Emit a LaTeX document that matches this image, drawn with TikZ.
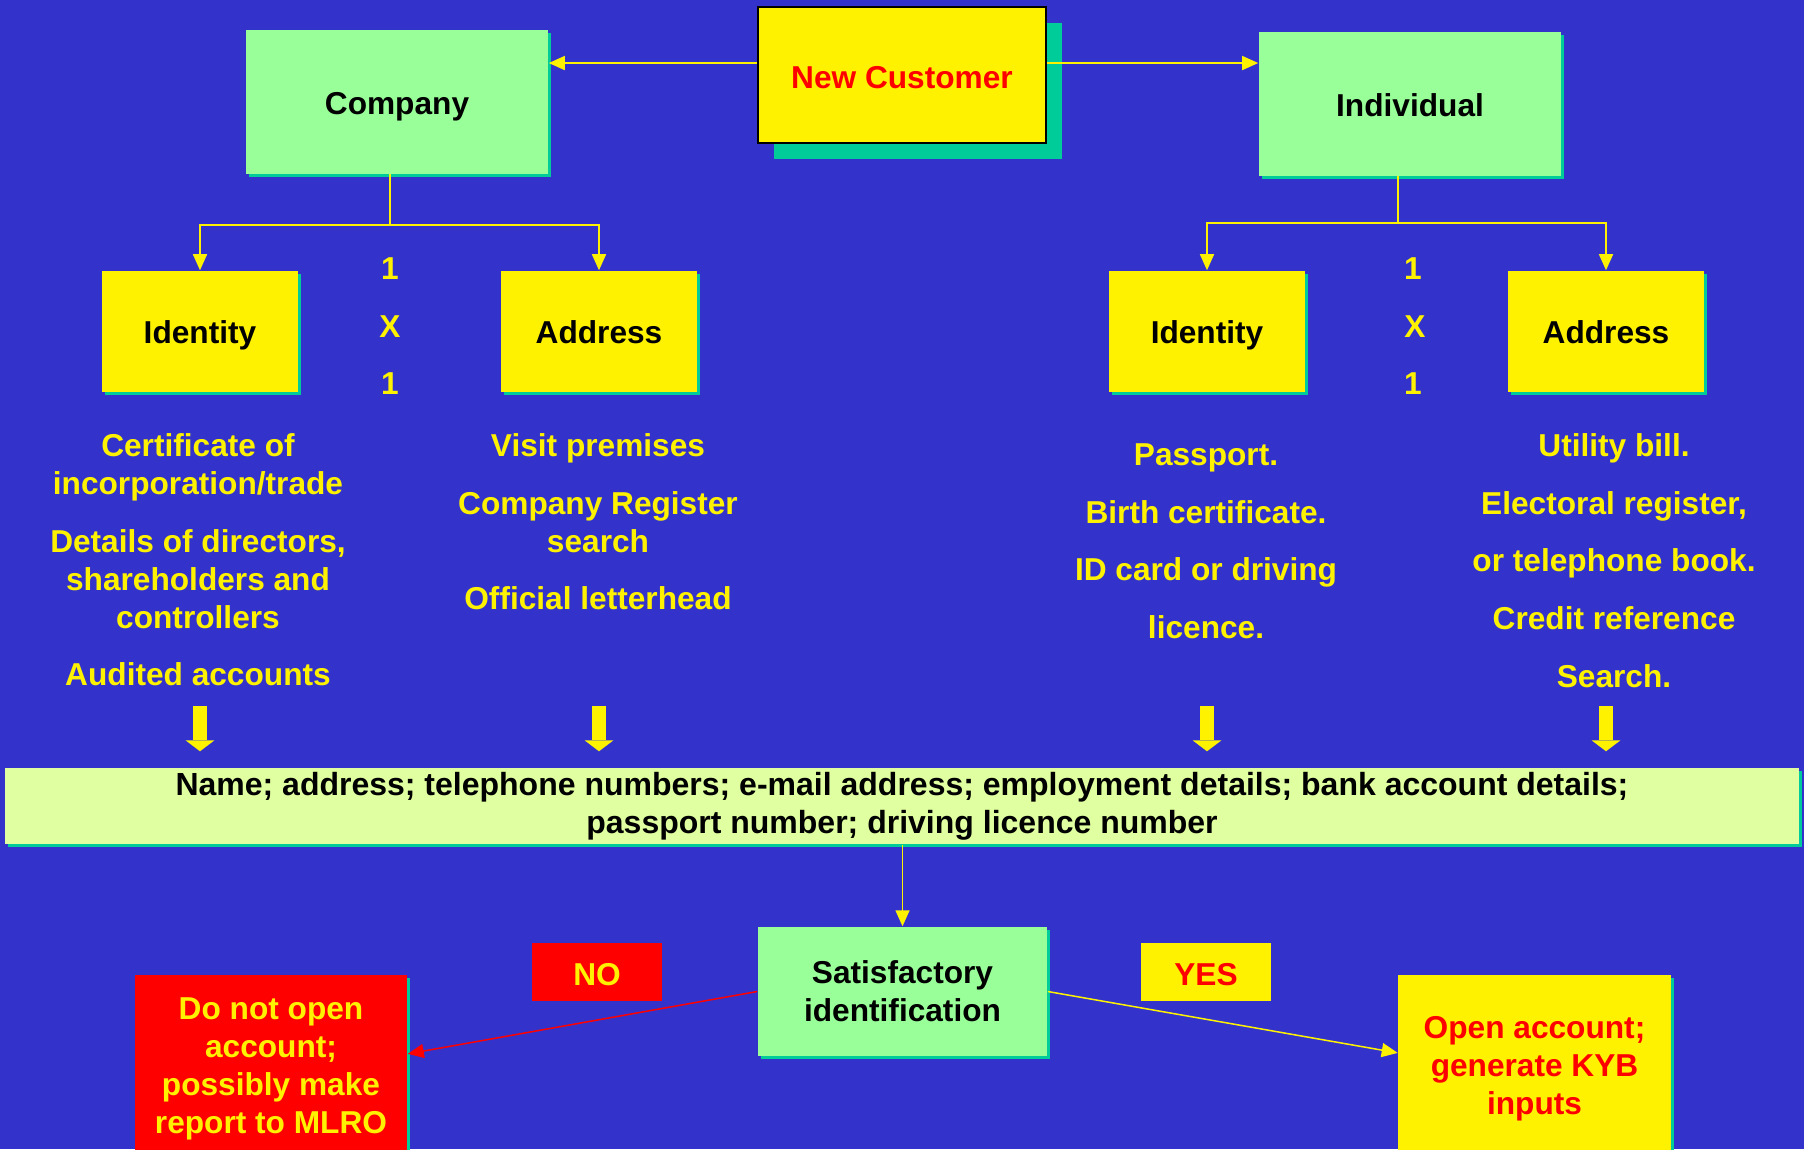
\documentclass[tikz,border=0pt]{standalone}
\usepackage{fontspec}
\setmainfont{Liberation Sans}
\usetikzlibrary{arrows.meta, shadows, calc}
\definecolor{kycblue}{RGB}{51,51,204}
\definecolor{kycgreen}{RGB}{153,255,153}
\definecolor{kycteal}{RGB}{0,204,153}
\definecolor{kycpale}{RGB}{224,255,160}
\tikzset{
    every node/.style = {align = center, inner sep = 0pt, font = \fontsize{9}{10.8}\selectfont\bfseries},
    box/.style = {drop shadow = {fill = kycteal, opacity = 1, shadow xshift = 0.85pt, shadow yshift = -0.85pt}},
    oneline/.style = {text height = 7pt, text depth = 0pt},
    greenbox/.style = {box, fill = kycgreen, minimum width = 3.02cm, minimum height = 1.43cm},
    ylwbox/.style = {box, oneline, fill = yellow, minimum width = 1.95cm, minimum height = 1.21cm},
    flag/.style = {text height = 7.5pt, text depth = 0pt, minimum width = 1.30cm, minimum height = 0.58cm},
    outcome/.style = {box, minimum width = 2.72cm, minimum height = 1.88cm},
    coltext/.style = {text = yellow, anchor = north},
    conn/.style = {draw = yellow, line width = 0.015cm, -{Triangle[length = 0.16cm, width = 0.14cm]}},
    fatarrow/.style = {draw = yellow, line width = 0.14cm, -{Triangle[length = 0.11cm, width = 0.29cm, line width = 0pt]}}
}

\begin{document}
\begin{tikzpicture}[x = 0.01cm, y = -0.01cm]
    \fill [kycblue] (0, 0) rectangle (1804, 1149);
    \clip (0, 0) rectangle (1804, 1149);

    % top row
    \node [greenbox, oneline] (company) at (397, 102) {Company};
    \node [greenbox, oneline] (individual) at (1410, 104) {Individual};
    \node [draw = black, line width = 0.02cm, fill = yellow, text = red, minimum width = 2.88cm, minimum height = 1.36cm,
        text height = 7.5pt, text depth = 0pt,
        drop shadow = {fill = kycteal, opacity = 1, shadow xshift = 4.5pt, shadow yshift = -4.5pt}]
        (newc) at (902, 75) {New Customer};

    % identity / address
    \node [ylwbox] (idC) at (200, 331.5) {Identity};
    \node [ylwbox] (adC) at (599, 331.5) {Address};
    \node [ylwbox] (idI) at (1207, 331.5) {Identity};
    \node [ylwbox] (adI) at (1606, 331.5) {Address};
    \node [text = yellow] (oneCa) at (390, 269) {1};
    \node [text = yellow] (xC) at (390, 327) {X};
    \node [text = yellow] (oneCb) at (390, 384) {1};
    \node [text = yellow] (oneIa) at (1413, 269) {1};
    \node [text = yellow] (xI) at (1415, 327) {X};
    \node [text = yellow] (oneIb) at (1413, 384) {1};

    % documents
    \node [coltext] (idCtext) at (198, 433) {Certificate of\\incorporation/trade\\[5.6pt]Details of directors,\\shareholders and\\controllers\\[5.6pt]Audited accounts};
    \node [coltext] (adCtext) at (598, 433) {Visit premises\\[5.6pt]Company Register\\search\\[5.6pt]Official letterhead};
    \node [coltext] (idItext) at (1206, 443) {Passport.\\[5.6pt]Birth certificate.\\[5.6pt]ID card or driving\\[5.6pt]licence.};
    \node [coltext] (adItext) at (1614, 433) {Utility bill.\\[5.6pt]Electoral register,\\[5.6pt]or telephone book.\\[5.6pt]Credit reference\\[5.6pt]Search.};

    \node [box, fill = kycpale, minimum width = 17.92cm, minimum height = 0.76cm,
        font = \fontsize{9.1}{10.8}\selectfont\bfseries] (info) at (902, 806)
        {Name; address; telephone numbers; e-mail address; employment details; bank account details;\\passport number; driving licence number};

    % decision
    \node [greenbox, minimum width = 2.89cm, minimum height = 1.29cm] (satisf) at (902.5, 991.5) {Satisfactory\\identification};
    \node [flag, fill = red, text = yellow] (no) at (597, 972) {NO};
    \node [flag, fill = yellow, text = red] (yes) at (1206, 972) {YES};
    \node [outcome, fill = red, text = yellow] (donot) at (271, 1069) {Do not open\\account;\\possibly make\\report to MLRO};
    \node [outcome, fill = yellow, text = red] (openacc) at (1534.5, 1069) {Open account;\\generate KYB\\inputs};

    % connectors
    \draw [conn] ([yshift = 3.4pt]newc.west) -- ([yshift = 3.4pt]newc.west -| company.east);
    \draw [conn] ([yshift = 3.4pt]newc.east) -- ([yshift = 3.4pt]newc.east -| individual.west);
    \draw [conn] (company.south -| xC) -- ++(0, 51) -| (idC.north);
    \draw [conn] (company.south -| xC) -- ++(0, 51) -| (adC.north);
    \draw [conn] ([xshift = -3.4pt]individual.south) -- ++(0, 47) -| (idI.north);
    \draw [conn] ([xshift = -3.4pt]individual.south) -- ++(0, 47) -| (adI.north);
    \foreach \col in {idC, adC, idI, adI}
        \draw [fatarrow] (info.north -| \col) ++(0, -61) -- ++(0, 45);
    \draw [conn] (info.south -| satisf.north) -- (satisf.north);
    \draw [conn, draw = red] (satisf.west) -- ($(donot.north east)!0.42!(donot.south east)$);
    \draw [conn] (satisf.east) -- ($(openacc.north west)!0.415!(openacc.south west)$);
\end{tikzpicture}
\end{document}
